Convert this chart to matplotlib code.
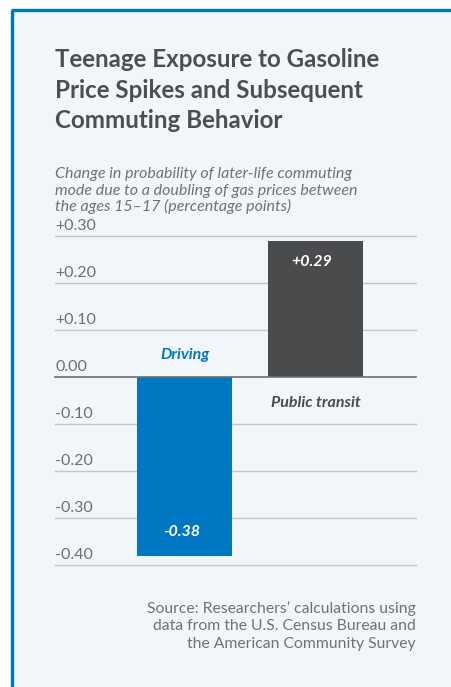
import matplotlib
matplotlib.use("Agg")
import matplotlib.pyplot as plt
from matplotlib.patches import Rectangle

categories = ["Driving", "Public transit"]
values = [-0.38, 0.29]
value_labels = ["-0.38", "+0.29"]
yticks = [0.30, 0.20, 0.10, 0.00, -0.10, -0.20, -0.30, -0.40]
ytick_labels = ["+0.30", "+0.20", "+0.10", "0.00", "-0.10", "-0.20", "-0.30", "-0.40"]

BLUE = "#0077c2"
DARK = "#4a4b4d"
BG = "#f2f6fb"
W, H = 451, 687

plt.rcParams['font.family'] = ['Lato', 'DejaVu Sans']
fig = plt.figure(figsize=(W / 100, H / 100), dpi=100)
fig.patch.set_facecolor("white")

# panel background and border
bg = Rectangle((12 / W, 0), 1, 1 - 10 / H, transform=fig.transFigure,
               facecolor=BG, edgecolor="none", zorder=-10)
fig.add_artist(bg)
fig.add_artist(plt.Line2D([12 / W, 12 / W], [0, 1 - 9.5 / H], transform=fig.transFigure,
                          color=BLUE, lw=2.4, solid_capstyle="butt", zorder=-5))
fig.add_artist(plt.Line2D([10.8 / W, 1], [1 - 9.5 / H, 1 - 9.5 / H], transform=fig.transFigure,
                          color=BLUE, lw=2.4, solid_capstyle="butt", zorder=-5))

# title
title_lines = ["Teenage Exposure to Gasoline", "Price Spikes and Subsequent", "Commuting Behavior"]
for i, line in enumerate(title_lines):
    fig.text(55 / W, 1 - (67 + 30.5 * i) / H, line, fontsize=17.4, fontweight="bold",
             color="#4d4e50", ha="left", va="baseline")

sub_lines = ["Change in probability of later-life commuting",
             "mode due to a doubling of gas prices between",
             "the ages 15\u201317 (percentage points)"]
for i, line in enumerate(sub_lines):
    fig.text(55 / W, 1 - (178 + 16.5 * i) / H, line, fontsize=11.5, style="italic",
             color="#707173", ha="left", va="baseline")

src_lines = ["Source: Researchers\u2019 calculations using",
             "data from the U.S. Census Bureau and",
             "the American Community Survey"]
for i, line in enumerate(src_lines):
    fig.text(416 / W, 1 - (613 + 17.5 * i) / H, line, fontsize=11.3, color="#707173",
             ha="right", va="baseline")

# axes
ax_left, ax_right = 55, 416
ax_top, ax_bot = 236, 565
ax = fig.add_axes([ax_left / W, 1 - ax_bot / H, (ax_right - ax_left) / W, (ax_bot - ax_top) / H])
ax.set_facecolor("none")
ax.set_ylim(-0.40, 0.30)
ax.set_xlim(-0.989, 1.767)
for s in ax.spines.values():
    s.set_visible(False)
ax.set_xticks([])
ax.set_yticks([])

for t, lab in zip(yticks, ytick_labels):
    if abs(t) < 1e-9:
        ax.axhline(t, color="#6d6e70", lw=1.2, zorder=3, clip_on=False)
    else:
        ax.axhline(t, color="#c3c6ca", lw=1.0, zorder=1, clip_on=False)
    ax.annotate(lab, xy=(0, t), xycoords=("axes fraction", "data"), xytext=(0, 2.5),
                textcoords="offset points", ha="left", va="bottom", fontsize=11.5,
                color="#6d6e70", annotation_clip=False)

x = [0, 1]
colors = [BLUE, DARK]
ax.bar(x, values, width=0.725, color=colors, zorder=2)

# category labels
ax.annotate(categories[0], xy=(0, 0), xytext=(0, 11), textcoords="offset points",
            ha="center", va="bottom", fontsize=11.5, fontweight="bold", style="italic", color=BLUE)
ax.annotate(categories[1], xy=(1, 0), xytext=(0, -19), textcoords="offset points",
            ha="center", va="center", fontsize=11.5, fontweight="bold", style="italic", color=DARK)

# value labels inside bars
ax.annotate(value_labels[0], xy=(0, values[0]), xytext=(-2, 17), textcoords="offset points",
            ha="center", va="center", fontsize=11.5, fontweight="bold", style="italic", color="white")
ax.annotate(value_labels[1], xy=(1, values[1]), xytext=(-3, -15), textcoords="offset points",
            ha="center", va="center", fontsize=11.5, fontweight="bold", style="italic", color="white")

fig.savefig("out.png", dpi=100, facecolor=fig.get_facecolor())
